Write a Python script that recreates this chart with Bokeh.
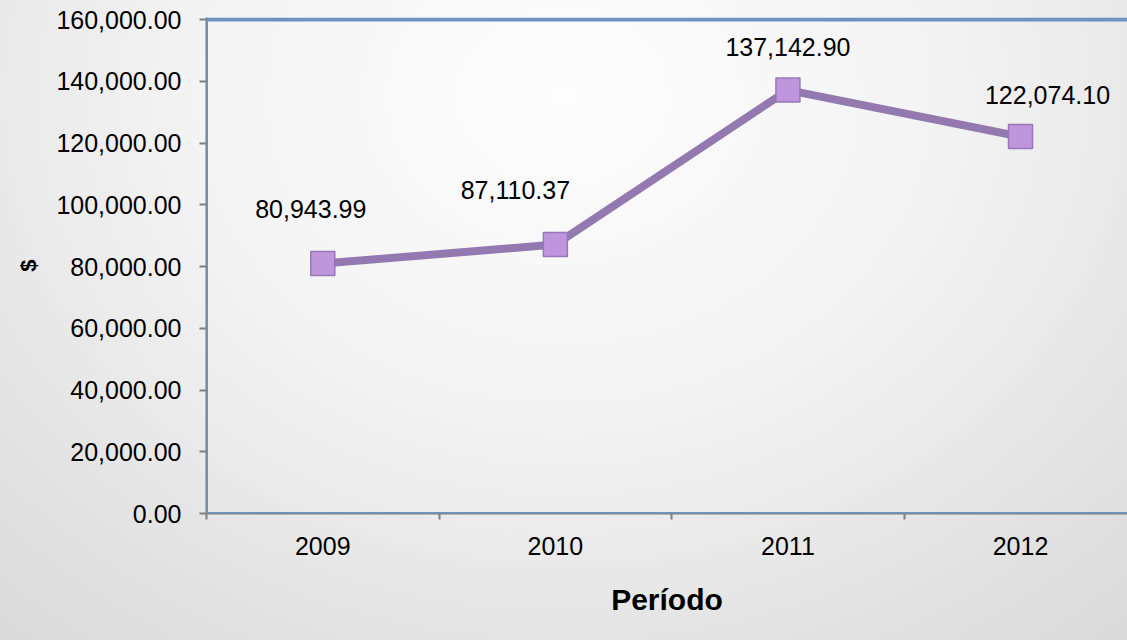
from bokeh.plotting import figure
from bokeh.models import (ColumnDataSource, Range1d, FixedTicker, NumeralTickFormatter,
                          LabelSet, Span)
from bokeh.core.properties import value
from bokeh.embed import file_html
from bokeh.resources import INLINE

# ---- data ----
years = ["2009", "2010", "2011", "2012"]
values = [80943.99, 87110.37, 137142.90, 122074.10]
value_labels = ["80,943.99", "87,110.37", "137,142.90", "122,074.10"]
y_ticks = [0, 20000, 40000, 60000, 80000, 100000, 120000, 140000, 160000]

# label placement (screen offsets, px) as in the original chart
label_dx = [-12, -40, 0, 27]
label_dy = [55, 55, 43, 42]

xpos = [i + 0.5 for i in range(len(years))]
src = ColumnDataSource(dict(x=xpos, y=values, lab=value_labels, dx=label_dx, dy=label_dy))

FONT = "Liberation Sans"

p = figure(width=1127, height=640, output_backend="svg", toolbar_location=None,
           x_range=Range1d(0, 3.96), y_range=Range1d(0, 160650))
p.min_border_left = 206
p.min_border_top = 17
p.min_border_right = 0
p.min_border_bottom = 127
p.border_fill_alpha = 0
p.background_fill_alpha = 0
p.outline_line_color = None
p.styles = {"background": "radial-gradient(ellipse 75% 110% at 50% 15%, #fdfdfd 0%, #f3f3f3 45%, #dadada 100%)"}
p.grid.visible = False

# x axis
xa = p.xaxis[0]
xa.ticker = FixedTicker(ticks=xpos, minor_ticks=[0, 1, 2, 3, 4])
xa.major_label_overrides = {x: y for x, y in zip(xpos, years)}
xa.major_tick_out = 0
xa.major_tick_in = 0
xa.minor_tick_out = 6
xa.minor_tick_in = 0
xa.minor_tick_line_color = "#7f7f7f"
xa.minor_tick_line_width = 2
xa.axis_line_color = "#7f7f7f"
xa.axis_line_width = 2
xa.major_label_text_font = FONT
xa.major_label_text_font_size = "25px"
xa.major_label_text_color = "#000000"
xa.major_label_standoff = 17
xa.axis_label = "Período"
xa.axis_label_text_font = FONT
xa.axis_label_text_font_style = "bold"
xa.axis_label_text_font_size = "30px"
xa.axis_label_text_color = "#000000"
xa.axis_label_standoff = 25

# y axis
ya = p.yaxis[0]
ya.ticker = FixedTicker(ticks=y_ticks)
ya.formatter = NumeralTickFormatter(format="0,0.00")
ya.major_tick_out = 7
ya.major_tick_in = 0
ya.minor_tick_out = 0
ya.minor_tick_in = 0
ya.major_tick_line_color = "#7f7f7f"
ya.major_tick_line_width = 2
ya.axis_line_color = "#7f7f7f"
ya.axis_line_width = 2
ya.major_label_text_font = FONT
ya.major_label_text_font_size = "25px"
ya.major_label_text_color = "#000000"
ya.major_label_standoff = 18
ya.axis_label = "$"
ya.axis_label_text_font = FONT
ya.axis_label_text_font_style = "bold"
ya.axis_label_text_font_size = "22px"
ya.axis_label_text_color = "#000000"
ya.axis_label_standoff = 12

# blue frame lines (top, left, bottom)
BLUE = "#6f93c1"
p.add_layout(Span(location=160000, dimension="width", line_color=BLUE, line_width=4))
p.add_layout(Span(location=0, dimension="height", line_color=BLUE, line_width=3))
p.add_layout(Span(location=0, dimension="width", line_color=BLUE, line_width=3))

# series
p.line("x", "y", source=src, line_color="#9479b0", line_width=8)
p.scatter("x", "y", source=src, marker="square", size=24,
          fill_color="#bf95dd", line_color="#9777b6", line_width=1.5)

labels = LabelSet(x="x", y="y", text="lab", source=src, x_offset="dx", y_offset="dy",
                  text_align="center", text_baseline="middle",
                  text_font=value(FONT), text_font_size=value("25px"), text_color="#000000")
p.add_layout(labels)

open("out.html", "w").write(file_html(p, INLINE))
